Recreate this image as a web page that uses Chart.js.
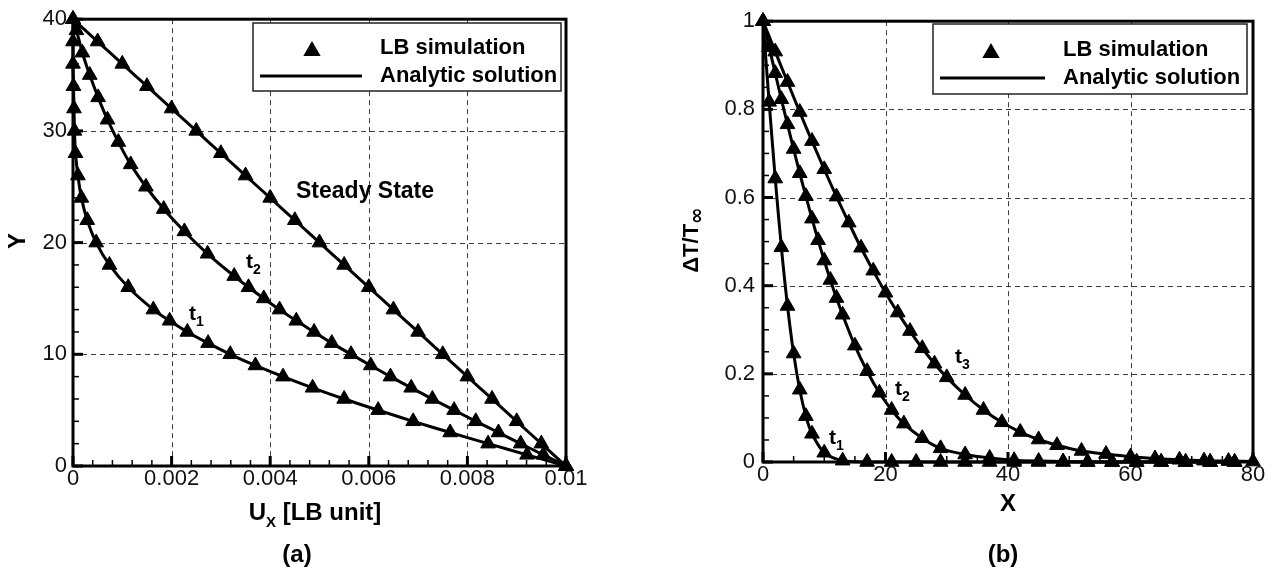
<!DOCTYPE html>
<html><head><meta charset="utf-8">
<script src="https://cdn.jsdelivr.net/npm/chart.js@4.4.1/dist/chart.umd.min.js"></script>
<style>
html,body{margin:0;padding:0;background:#fff;}
#wrap{position:relative;width:1272px;height:572px;overflow:hidden;}
.c{position:absolute;top:0;width:636px;height:572px;}
</style></head><body>
<div id="wrap">
<div class="c" style="left:0"><canvas id="ca" width="636" height="572"></canvas></div>
<div class="c" style="left:636px"><canvas id="cb" width="636" height="572"></canvas></div>
</div>
<script>
// ---------- Panel (a): velocity profiles ----------
const aXTickValues = [0, 0.002, 0.004, 0.006, 0.008, 0.01];
const aXTickLabels = ['0', '0.002', '0.004', '0.006', '0.008', '0.01'];
const aYTickValues = [0, 10, 20, 30, 40];
const aYTickLabels = ['0', '10', '20', '30', '40'];

const aT1_Y = [0,1,2,3,4,5,6,7,8,9,10,11,12,13,14,16,18,20,22,24,26,28,30,32,34,36,38,40];
const aT1_U = [0.0100,0.00921,0.00842,0.00765,0.00690,0.00619,0.00550,0.00486,0.00426,0.00370,0.00319,0.00274,0.00232,0.00196,0.00163,0.00112,0.00074,0.00047,0.00029,0.00017,0.00010,0.00005,0.00003,0.00002,0.00001,0,0,0];

const aT2_Y = [0,1,2,3,4,5,6,7,8,9,10,11,12,13,14,15,16,17,19,21,23,25,27,29,31,33,35,37,39,40];
const aT2_U = [0.0100,0.00954,0.00908,0.00863,0.00817,0.00773,0.00729,0.00686,0.00644,0.00604,0.00564,0.00525,0.00489,0.00453,0.00419,0.00387,0.00356,0.00327,0.00273,0.00226,0.00184,0.00148,0.00117,0.00092,0.00070,0.00051,0.00034,0.00019,0.00007,0];

const aSS_Y = [0,2,4,6,8,10,12,14,16,18,20,22,24,26,28,30,32,34,36,38,40];
const aSS_U = [0.0100,0.0095,0.0090,0.0085,0.0080,0.0075,0.0070,0.0065,0.0060,0.0055,0.0050,0.0045,0.0040,0.0035,0.0030,0.0025,0.0020,0.0015,0.0010,0.0005,0];

// ---------- Panel (b): temperature profiles ----------
const bXTickValues = [0, 20, 40, 60, 80];
const bXTickLabels = ['0', '20', '40', '60', '80'];
const bYTickValues = [0, 0.2, 0.4, 0.6, 0.8, 1];
const bYTickLabels = ['0', '0.2', '0.4', '0.6', '0.8', '1'];

const bT1_X = [0,1,2,3,4,5,6,7,8,10,13,17,21,25,29,33,37,41,45,49,53,57,61,65,69,73,77];
const bT1_V = [1,0.817,0.643,0.487,0.354,0.246,0.164,0.104,0.064,0.021,0.003,0,0,0,0,0,0,0,0,0,0,0,0,0,0,0,0];

const bT2_X = [0,1,2,3,4,5,6,7,8,9,10,11,12,13,15,17,19,21,23,26,29,33,37,41,45,49,53,57,61,65,69,73,77];
const bT2_V = [1,0.941,0.882,0.823,0.766,0.710,0.655,0.603,0.552,0.503,0.457,0.413,0.372,0.334,0.264,0.206,0.157,0.118,0.087,0.054,0.031,0.017,0.009,0.004,0.002,0.001,0,0,0,0,0,0,0];

const bT3_X = [0,2,4,6,8,10,12,14,16,18,20,22,24,26,28,30,33,36,39,42,45,48,52,56,60,64,68,72,76,80];
const bT3_V = [1,0.931,0.862,0.794,0.728,0.664,0.602,0.543,0.486,0.434,0.384,0.339,0.297,0.258,0.223,0.192,0.152,0.118,0.090,0.068,0.051,0.038,0.025,0.018,0.012,0.008,0.005,0.003,0.002,0.001];

const legendLabels = ['LB simulation', 'Analytic solution'];

// ---------- helpers ----------
const FONT = "'Liberation Sans', Arial, Helvetica, sans-serif";
const MARK_R = 8.5;
function pts(xs, ys) { return xs.map((v, i) => ({ x: v, y: ys[i] })); }
function curve(points) {
  return [
    { label: legendLabels[1], data: points, showLine: true, borderColor: '#000', borderWidth: 3,
      pointRadius: 0, pointHoverRadius: 0, tension: 0.3, fill: false, clip: false },
    { label: legendLabels[0], data: points, showLine: false, pointStyle: 'triangle', pointRadius: MARK_R,
      pointHoverRadius: MARK_R, pointBackgroundColor: '#000', pointBorderColor: '#000', pointBorderWidth: 1, clip: false }
  ];
}
function axis(min, max, vals, labels, pad, fit) {
  return {
    type: 'linear', min, max,
    afterBuildTicks: s => { s.ticks = vals.map(v => ({ value: v })); },
    afterFit: fit,
    ticks: { callback: (v, i) => labels[i], color: '#111', font: { family: FONT, size: 22 },
             padding: pad, autoSkip: false, maxRotation: 0, minRotation: 0 },
    grid: { display: false, drawTicks: false },
    border: { display: false }
  };
}
function fontOf(p) { return p[3] ? p[3] : ('bold ' + p[1] + 'px ' + FONT); }
function drawParts(ctx, parts, x, base) {
  let cx = x;
  parts.forEach(p => {
    ctx.font = fontOf(p);
    ctx.fillText(p[0], cx, base + p[2]);
    cx += ctx.measureText(p[0]).width;
  });
}
function partsWidth(ctx, parts) {
  let w = 0;
  parts.forEach(p => { ctx.font = fontOf(p); w += ctx.measureText(p[0]).width; });
  return w;
}
function decor(o) {
  return {
    id: 'decor',
    beforeDatasetsDraw(chart) {
      const { ctx, chartArea: a, scales: { x, y } } = chart;
      ctx.save();
      ctx.strokeStyle = '#3c3c3c'; ctx.lineWidth = 1; ctx.setLineDash([5, 4]);
      o.xTicks.forEach(v => {
        if (v === o.xMin || v === o.xMax) return;
        const p = Math.round(x.getPixelForValue(v)) + 0.5;
        ctx.beginPath(); ctx.moveTo(p, a.top); ctx.lineTo(p, a.bottom); ctx.stroke();
      });
      o.yTicks.forEach(v => {
        if (v === o.yMin || v === o.yMax) return;
        const p = Math.round(y.getPixelForValue(v)) + 0.5;
        ctx.beginPath(); ctx.moveTo(a.left, p); ctx.lineTo(a.right, p); ctx.stroke();
      });
      ctx.setLineDash([]);
      ctx.strokeStyle = '#000';
      ctx.lineWidth = 1.5;
      const nx = Math.round((o.xMax - o.xMin) / o.xMinor);
      for (let i = 1; i < nx; i++) {
        const p = x.getPixelForValue(o.xMin + i * o.xMinor);
        ctx.beginPath(); ctx.moveTo(p, a.bottom); ctx.lineTo(p, a.bottom - 6); ctx.stroke();
      }
      const ny = Math.round((o.yMax - o.yMin) / o.yMinor);
      for (let i = 1; i < ny; i++) {
        const p = y.getPixelForValue(o.yMin + i * o.yMinor);
        ctx.beginPath(); ctx.moveTo(a.left, p); ctx.lineTo(a.left + 6, p); ctx.stroke();
      }
      ctx.lineWidth = 3;
      o.xTicks.forEach(v => {
        const p = x.getPixelForValue(v);
        ctx.beginPath(); ctx.moveTo(p, a.bottom); ctx.lineTo(p, a.bottom - 10); ctx.stroke();
      });
      o.yTicks.forEach(v => {
        const p = y.getPixelForValue(v);
        ctx.beginPath(); ctx.moveTo(a.left, p); ctx.lineTo(a.left + 10, p); ctx.stroke();
      });
      ctx.lineWidth = 3;
      ctx.strokeRect(a.left, a.top, a.right - a.left, a.bottom - a.top);
      ctx.restore();
    },
    afterDatasetsDraw(chart) {
      const ctx = chart.ctx;
      const L = o.legend;
      ctx.save();
      ctx.fillStyle = '#fff';
      ctx.fillRect(L.x, L.y, L.w, L.h);
      ctx.strokeStyle = '#222'; ctx.lineWidth = 1.5;
      ctx.strokeRect(L.x, L.y, L.w, L.h);
      ctx.fillStyle = '#000'; ctx.strokeStyle = '#000';
      Chart.helpers.drawPoint(ctx, { pointStyle: 'triangle', radius: MARK_R, borderWidth: 1, rotation: 0 }, L.triX, L.triY);
      ctx.fill();
      ctx.lineWidth = 3;
      ctx.beginPath(); ctx.moveTo(L.lineX1, L.lineY); ctx.lineTo(L.lineX2, L.lineY); ctx.stroke();
      ctx.fillStyle = '#000';
      ctx.textBaseline = 'middle'; ctx.textAlign = 'left';
      ctx.font = 'bold 22px ' + FONT;
      ctx.fillText(legendLabels[0], L.textX, L.textY1);
      ctx.fillText(legendLabels[1], L.textX, L.textY2);
      ctx.textBaseline = 'alphabetic';
      o.notes.forEach(n => drawParts(ctx, n.parts, n.x, n.base));
      const xw = partsWidth(ctx, o.xTitle.parts);
      drawParts(ctx, o.xTitle.parts, o.xTitle.cx - xw / 2, o.xTitle.base);
      ctx.save();
      ctx.translate(o.yTitle.cx, o.yTitle.cy);
      ctx.rotate(-Math.PI / 2);
      const yw = partsWidth(ctx, o.yTitle.parts);
      drawParts(ctx, o.yTitle.parts, -yw / 2, 8);
      ctx.restore();
      const pw = partsWidth(ctx, o.panel.parts);
      drawParts(ctx, o.panel.parts, o.panel.cx - pw / 2, o.panel.base);
      ctx.restore();
    }
  };
}

// ---------- Chart (a) ----------
new Chart(document.getElementById('ca'), {
  type: 'scatter',
  data: { datasets: [].concat(curve(pts(aT1_U, aT1_Y)), curve(pts(aT2_U, aT2_Y)), curve(pts(aSS_U, aSS_Y))) },
  options: {
    responsive: false, animation: false, events: [],
    layout: { padding: { left: 0, top: 17, right: 70, bottom: 0 } },
    plugins: { legend: { display: false }, tooltip: { enabled: false } },
    scales: {
      x: axis(0, 0.01, aXTickValues, aXTickLabels, 0, s => { s.height = 106; }),
      y: axis(0, 40, aYTickValues, aYTickLabels, 6, s => { s.width = 73; })
    }
  },
  plugins: [decor({
    xMin: 0, xMax: 0.01, xMinor: 0.0004, yMin: 0, yMax: 40, yMinor: 2,
    xTicks: aXTickValues, yTicks: aYTickValues,
    legend: { x: 253, y: 23, w: 308, h: 68, triX: 312, triY: 51, lineX1: 260, lineX2: 362, lineY: 76, textX: 380, textY1: 48, textY2: 76 },
    notes: [
      { x: 296, base: 198, parts: [['Steady State', 23, 0]] },
      { x: 246, base: 268, parts: [['t', 21, 0], ['2', 14, 6]] },
      { x: 189, base: 320, parts: [['t', 21, 0], ['1', 14, 6]] }
    ],
    xTitle: { cx: 315, base: 520, parts: [['U', 24, 0], ['X', 15, 7], [' [LB unit]', 24, 0]] },
    yTitle: { cx: 17, cy: 241, parts: [['Y', 24, 0]] },
    panel: { cx: 297, base: 562, parts: [['(a)', 24, 0]] }
  })]
});

// ---------- Chart (b) ----------
new Chart(document.getElementById('cb'), {
  type: 'scatter',
  data: { datasets: [].concat(curve(pts(bT1_X, bT1_V)), curve(pts(bT2_X, bT2_V)), curve(pts(bT3_X, bT3_V))) },
  options: {
    responsive: false, animation: false, events: [],
    layout: { padding: { left: 0, top: 17, right: 19, bottom: 0 } },
    plugins: { legend: { display: false }, tooltip: { enabled: false } },
    scales: {
      x: axis(0, 80, bXTickValues, bXTickLabels, 0, s => { s.height = 110; }),
      y: axis(0, 1, bYTickValues, bYTickLabels, 8, s => { s.width = 127; })
    }
  },
  plugins: [decor({
    xMin: 0, xMax: 80, xMinor: 5, yMin: 0, yMax: 1, yMinor: 0.05,
    xTicks: bXTickValues, yTicks: bYTickValues,
    legend: { x: 297, y: 24, w: 314, h: 70, triX: 355, triY: 53, lineX1: 304, lineX2: 409, lineY: 78, textX: 427, textY1: 50, textY2: 78 },
    notes: [
      { x: 193, base: 444, parts: [['t', 21, 0], ['1', 14, 6]] },
      { x: 259, base: 395, parts: [['t', 21, 0], ['2', 14, 6]] },
      { x: 319, base: 363, parts: [['t', 21, 0], ['3', 14, 6]] }
    ],
    xTitle: { cx: 372, base: 511, parts: [['X', 24, 0]] },
    yTitle: { cx: 54, cy: 240, parts: [['\u0394T/T', 22, 0], ['\u221E', 20, 5, "bold 20px 'DejaVu Sans', sans-serif"]] },
    panel: { cx: 367, base: 562, parts: [['(b)', 24, 0]] }
  })]
});
</script>
</body></html>
